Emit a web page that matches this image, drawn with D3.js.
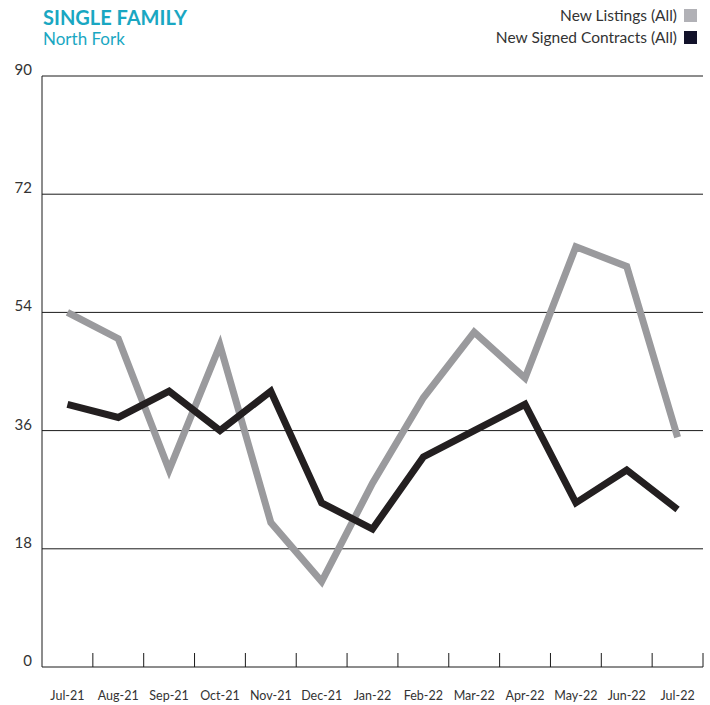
<!DOCTYPE html>
<html><head><meta charset="utf-8">
<script src="https://cdn.jsdelivr.net/npm/d3@7"></script>
<style>body{margin:0;background:#fff}svg{display:block}</style>
</head><body>
<svg id="c" width="710" height="705"></svg>
<script>
const months = ["Jul-21","Aug-21","Sep-21","Oct-21","Nov-21","Dec-21","Jan-22","Feb-22","Mar-22","Apr-22","May-22","Jun-22","Jul-22"];
const newListings = [54,50,30,49,22,13,28,41,51,44,64,61,35];
const newContracts = [40,38,42,36,42,25,21,32,36,40,25,30,24];
const yTicks = [0,18,36,54,72,90];
const seriesNames = ["New Listings (All)","New Signed Contracts (All)"];

const svg = d3.select("#c");
const font = "Lato, 'Open Sans', sans-serif";
const L = 42, R = 703, T = 76, B = 667;
const x = d3.scaleBand().domain(months).range([L, R]).padding(0);
const y = d3.scaleLinear().domain([0, 90]).range([B, T]);

// gridlines
svg.append("g").selectAll("line").data(yTicks.filter(d=>d>0)).join("line")
  .attr("x1", L).attr("x2", R).attr("y1", d=>y(d)).attr("y2", d=>y(d))
  .attr("stroke", "#1a1a1a").attr("stroke-width", 1);
// y labels
svg.append("g").selectAll("text").data(yTicks).join("text")
  .attr("x", 32).attr("y", d=>y(d)-1).attr("text-anchor","end")
  .attr("font-family", font).attr("font-size", 15).attr("fill","#333")
  .text(d=>d);
// axes lines
svg.append("line").attr("x1",L).attr("x2",L).attr("y1",T).attr("y2",B).attr("stroke","#1a1a1a");
svg.append("line").attr("x1",L).attr("x2",R).attr("y1",B).attr("y2",B).attr("stroke","#1a1a1a");
// x ticks at band ends
svg.append("g").selectAll("line").data(months).join("line")
  .attr("x1", d=>x(d)+x.bandwidth()).attr("x2", d=>x(d)+x.bandwidth())
  .attr("y1", B-14).attr("y2", B).attr("stroke","#1a1a1a");
svg.append("g").selectAll("text").data(months).join("text")
  .attr("x", d=>x(d)+x.bandwidth()/2).attr("y", 700).attr("text-anchor","middle")
  .attr("font-family", font).attr("font-size", 12.5).attr("fill","#333")
  .text(d=>d);

const line = d3.line().x((d,i)=>x(months[i])+x.bandwidth()/2).y(d=>y(d));
svg.append("path").datum(newListings).attr("d", line).attr("fill","none")
  .attr("stroke","#9a9a9d").attr("stroke-width",7).attr("stroke-linejoin","miter");
svg.append("path").datum(newContracts).attr("d", line).attr("fill","none")
  .attr("stroke","#231f20").attr("stroke-width",7).attr("stroke-linejoin","miter");

// title
svg.append("text").attr("x",43).attr("y",25).attr("font-family",font).attr("font-weight","bold")
  .attr("font-size",20).attr("fill","#1aa7c2").text("SINGLE FAMILY");
svg.append("text").attr("x",43).attr("y",45).attr("font-family",font)
  .attr("font-size",17).attr("fill","#1aa7c2").text("North Fork");

// legend
const legColors = ["#b1b1b6","#12122a"];
seriesNames.forEach((n,i)=>{
  svg.append("text").attr("x",677).attr("y",21+i*22).attr("text-anchor","end")
    .attr("font-family",font).attr("font-size",15.5).attr("fill","#333").text(n);
  svg.append("rect").attr("x",684).attr("y",8+i*22+1).attr("width",13).attr("height",13).attr("fill",legColors[i]);
});
</script>
</body></html>
